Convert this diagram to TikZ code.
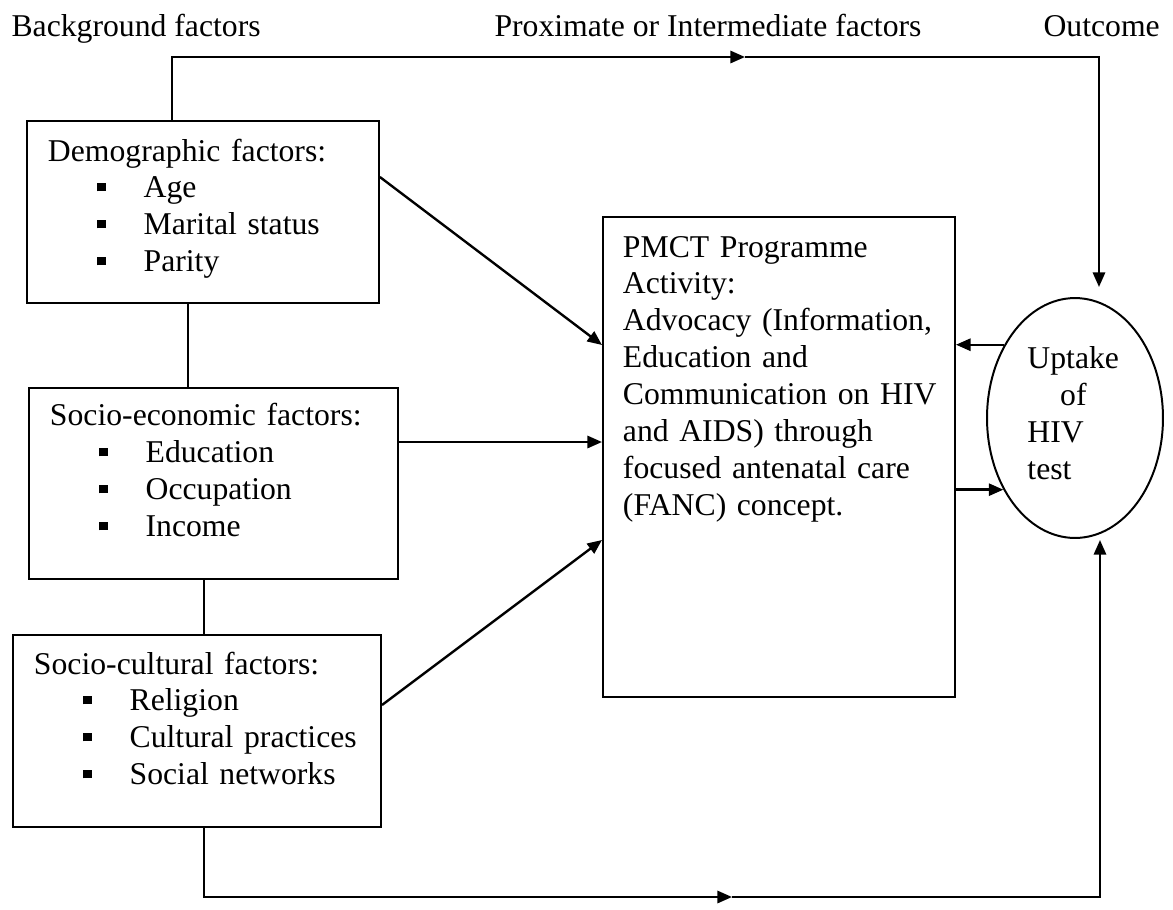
\documentclass[tikz,border=0pt]{standalone}
\usepackage{fontspec}
\setmainfont{Liberation Serif}
\usetikzlibrary{arrows.meta,shapes.geometric}
\newcommand{\itm}{\hspace*{18.7pt}\rule[2.5pt]{3.3pt}{3.3pt}\hspace*{14.2pt}}

\begin{document}
\begin{tikzpicture}[x=0.3785pt,y=-0.3785pt,font={\fontsize{12}{14}\selectfont},
  box/.style={draw,line width=0.75pt,anchor=north west,align=left,inner ysep=0pt,inner xsep=7.95pt},
  head/.style={anchor=base west,inner sep=0pt},
  arr/.style={line width=0.9pt,-{Triangle[length=5.5pt,width=4.6pt]}},
  link/.style={line width=0.75pt}]
\useasboundingbox (0,0) rectangle (1173,909);
\node[head] (bg) at (11,36) {Background factors};
\node[head] (prox) at (494,36) {Proximate or Intermediate factors};
\node[head] (out) at (1043,36) {Outcome};
\node[box,text width=117.3pt,text height=15.14pt,text depth=53.75pt] (demo) at (26,120)
  {Demographic factors:\\ \itm Age\\ \itm Marital status\\ \itm Parity};
\node[box,text width=123.8pt,text height=14.38pt,text depth=57.91pt] (se) at (28,387)
  {Socio-economic factors:\\ \itm Education\\ \itm Occupation\\ \itm Income};
\node[box,text width=123.4pt,text height=14.76pt,text depth=57.91pt] (sc) at (12,634)
  {Socio-cultural factors:\\ \itm Religion\\ \itm Cultural practices\\ \itm Social networks};
\node[box,inner xsep=7.57pt,text width=118.1pt,text height=15.14pt,text depth=166.5pt] (pm) at (602,216)
  {PMCT Programme\\ Activity:\\ \mbox{Advocacy (Information,}\\ Education and\\ \mbox{Communication on HIV}\\
   and AIDS) through\\ \mbox{focused antenatal care}\\ (FANC) concept.};
\node[draw,ellipse,line width=0.75pt,minimum width=66.6pt,minimum height=90.8pt,inner sep=0pt,
  align=left,text width=36pt,text height=7.57pt,text depth=45.4pt] (up) at (1075,418)
  {Uptake\\ \hspace*{12.4pt}of\\ HIV\\ test};
\draw[link] (demo.south -| 188,0) -- (se.north -| 188,0);
\draw[link] (se.south -| 204,0) -- (sc.north -| 204,0);
\draw[arr] (demo.east |- 0,177) -- (pm.west |- 0,345);
\draw[arr] (se.east |- 0,442) -- (pm.west |- 0,442);
\draw[arr] (sc.east |- 0,705) -- (pm.west |- 0,540);
\draw[arr] (up.134) -- (pm.east |- up.134);
\draw[arr] (pm.east |- up.225) -- (up.225);
\coordinate (topmid) at (745,57);
\coordinate (topin) at (1099,287);
\draw[arr] (demo.north -| 172,0) |- (topmid);
\draw[arr] (topmid) -| (topin);
\coordinate (botmid) at (732,897);
\coordinate (botin) at (1100,540);
\draw[arr] (sc.south -| 204,0) |- (botmid);
\draw[arr] (botmid) -| (botin);
\end{tikzpicture}
\end{document}
